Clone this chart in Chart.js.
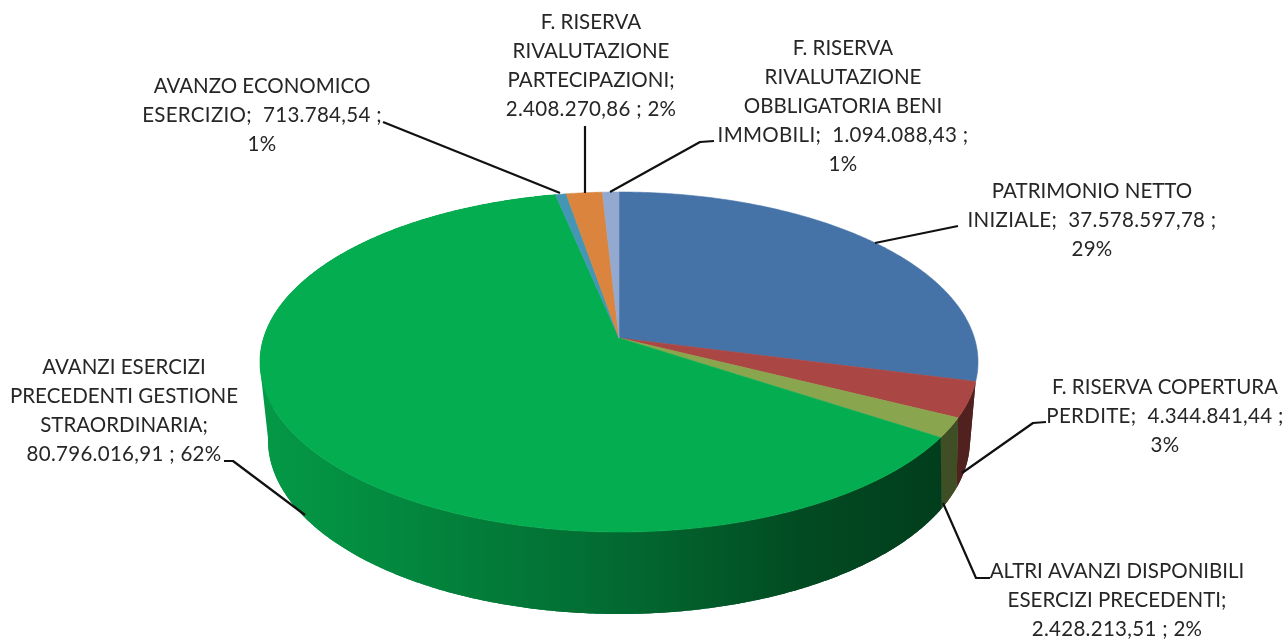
<!DOCTYPE html>
<html>
<head>
<meta charset="utf-8">
<style>html,body{margin:0;padding:0;background:#fff;overflow:hidden}canvas{display:block}</style>
<script src="https://cdn.jsdelivr.net/npm/chart.js@4"></script>
</head>
<body>
<canvas id="c" width="1288" height="643"></canvas>
<script>
const categories = [
  "PATRIMONIO NETTO INIZIALE",
  "F. RISERVA COPERTURA PERDITE",
  "ALTRI AVANZI DISPONIBILI ESERCIZI PRECEDENTI",
  "AVANZI ESERCIZI PRECEDENTI GESTIONE STRAORDINARIA",
  "AVANZO ECONOMICO ESERCIZIO",
  "F. RISERVA RIVALUTAZIONE PARTECIPAZIONI",
  "F. RISERVA RIVALUTAZIONE OBBLIGATORIA BENI IMMOBILI"
];
const values = [37578597.78, 4344841.44, 2428213.51, 80796016.91, 713784.54, 2408270.86, 1094088.43];
const colors = ["#4572A7", "#AA4643", "#89A54E", "#04AE50", "#4496B4", "#DB843D", "#93A9CF"];
const labelLines = [
  ["PATRIMONIO NETTO", "INIZIALE;  37.578.597,78 ;", "29%"],
  ["F. RISERVA COPERTURA", "PERDITE;  4.344.841,44 ;", "3%"],
  ["ALTRI AVANZI DISPONIBILI", "ESERCIZI PRECEDENTI;", "2.428.213,51 ; 2%"],
  ["AVANZI ESERCIZI", "PRECEDENTI GESTIONE", "STRAORDINARIA;", "80.796.016,91 ; 62%"],
  ["AVANZO ECONOMICO", "ESERCIZIO;  713.784,54 ;", "1%"],
  ["F. RISERVA", "RIVALUTAZIONE", "PARTECIPAZIONI;", "2.408.270,86 ; 2%"],
  ["F. RISERVA", "RIVALUTAZIONE", "OBBLIGATORIA BENI", "IMMOBILI;  1.094.088,43 ;", "1%"]
];

// Layout of the annotations, in index order of the slices
const labelPos = [[1092,191],[1165,387],[1117,571],[124,367],[262,86],[591,22],[843,48]];
const leaders = [
  [[875,243],[958,226]],
  [[962,473],[1033,423],[1046,422]],
  [[943,503],[976,578],[990,578]],
  [[305,515],[233,461],[224,461]],
  [[560,193],[383,122]],
  [[585,193],[585,126]],
  [[610,192],[700,142],[714,141]]
];
const LINE_H = 29;
// Perspective geometry of the disc
const TOP = {cx:619, cy:362, rx:359, ry:170, d:-0.141};
const BOT = {cx:619, cy:440, rx:351, ry:174, d:-0.2};
const greenShade = [[262,.88],[380,.8],[500,.7],[620,.61],[720,.51],[800,.43],[945,.35]];

function project(g, a){
  const x = Math.cos(a), y = Math.sin(a), k = 1 + g.d*y;
  return [g.cx + g.rx*x*Math.sqrt(1-g.d*g.d)/k, g.cy + g.ry*(y+g.d)/k];
}
function shade(hex,f){
  const n = parseInt(hex.slice(1),16);
  return `rgb(${Math.round((n>>16&255)*f)},${Math.round((n>>8&255)*f)},${Math.round((n&255)*f)})`;
}
function samples(a0,a1){
  const n = Math.max(2,Math.ceil((a1-a0)/0.008)), out=[];
  for(let i=0;i<=n;i++) out.push(a0+(a1-a0)*i/n);
  return out;
}

const disc3d = {
  id:'disc3d',
  beforeDatasetDraw(chart,args){
    const ctx = chart.ctx, arcs = chart.getDatasetMeta(args.index).data;
    const DEG = Math.PI/180;
    ctx.save();
    // side wall (front-facing slices only)
    arcs.forEach((arc,i)=>{
      const a0 = arc.startAngle, a1 = arc.endAngle;
      if(a1 <= 20*DEG || a0 >= 180*DEG) return;
      let fill;
      if(a1-a0 > 1){
        fill = ctx.createLinearGradient(262,0,945,0);
        greenShade.forEach(s=>fill.addColorStop((s[0]-262)/683, shade(colors[i],s[1])));
      } else fill = shade(colors[i],0.47);
      ctx.fillStyle = fill;
      const as = samples(a0,a1);
      // outline between the two rims
      ctx.beginPath();
      as.forEach((a,j)=>{const p=project(TOP,a); j?ctx.lineTo(p[0],p[1]):ctx.moveTo(p[0],p[1]);});
      as.slice().reverse().forEach(a=>{const p=project(BOT,a); ctx.lineTo(p[0],p[1]);});
      ctx.closePath();
      ctx.fill();
      // swept strip, one path, fills the silhouette fold at the left
      ctx.beginPath();
      for(let j=0;j<as.length-1;j++){
        const p=project(TOP,as[j]), q=project(TOP,as[j+1]), r=project(BOT,as[j+1]), s=project(BOT,as[j]);
        const area = (q[0]-p[0])*(r[1]-p[1])-(q[1]-p[1])*(r[0]-p[0]);
        if(area>=0){
          ctx.moveTo(p[0],p[1]); ctx.lineTo(q[0],q[1]); ctx.lineTo(r[0],r[1]); ctx.lineTo(s[0],s[1]);
        } else {
          ctx.moveTo(s[0],s[1]); ctx.lineTo(r[0],r[1]); ctx.lineTo(q[0],q[1]); ctx.lineTo(p[0],p[1]);
        }
        ctx.closePath();
      }
      ctx.fill();
    });
    // top face
    arcs.forEach((arc,i)=>{
      const as = samples(arc.startAngle,arc.endAngle);
      ctx.beginPath();
      ctx.moveTo(TOP.cx, TOP.cy + TOP.ry*TOP.d);
      as.forEach(a=>{const p=project(TOP,a); ctx.lineTo(p[0],p[1]);});
      ctx.closePath();
      ctx.fillStyle = colors[i]; ctx.strokeStyle = colors[i]; ctx.lineWidth = .6;
      ctx.fill(); ctx.stroke();
    });
    ctx.restore();
    return false;
  },
  afterDraw(chart){
    const ctx = chart.ctx;
    ctx.save();
    ctx.strokeStyle = '#111'; ctx.lineWidth = 2.2; ctx.lineJoin='round';
    leaders.forEach(l=>{
      ctx.beginPath();
      l.forEach((p,j)=> j?ctx.lineTo(p[0],p[1]):ctx.moveTo(p[0],p[1]));
      ctx.stroke();
    });
    ctx.fillStyle = '#262626';
    ctx.font = '20.5px Lato, "Open Sans", sans-serif';
    ctx.textAlign = 'center'; ctx.textBaseline = 'middle';
    labelLines.forEach((lines,i)=>{
      lines.forEach((t,j)=>{
        ctx.letterSpacing = /\d/.test(t) ? '0.3px' : '0px';
        ctx.fillText(t, labelPos[i][0], labelPos[i][1]+j*LINE_H);
      });
    });
    ctx.restore();
  }
};

new Chart(document.getElementById('c'),{
  type:'pie',
  data:{labels:categories,datasets:[{data:values,backgroundColor:colors,borderWidth:0}]},
  options:{
    responsive:false,animation:false,
    plugins:{legend:{display:false},tooltip:{enabled:false},title:{display:false}}
  },
  plugins:[disc3d]
});
</script>
</body>
</html>
